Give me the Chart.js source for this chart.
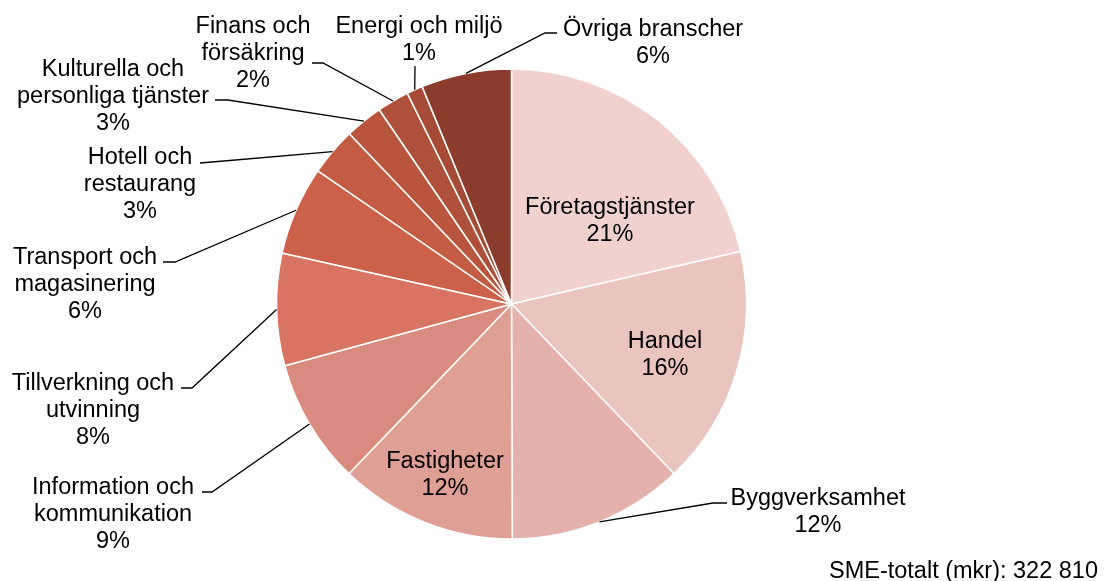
<!DOCTYPE html>
<html>
<head>
<meta charset="utf-8">
<script src="https://cdn.jsdelivr.net/npm/chart.js"></script>
<style>
  body { margin: 0; background: #fff; }
  #wrap { width: 1106px; height: 581px; position: relative; }
</style>
</head>
<body>
<div id="wrap"><canvas id="myChart"></canvas></div>
<script>
// branches (multi-line labels), share of SME total in percent
const categories = [
  ['Företagstjänster'],
  ['Handel'],
  ['Byggverksamhet'],
  ['Fastigheter'],
  ['Information och', 'kommunikation'],
  ['Tillverkning och', 'utvinning'],
  ['Transport och', 'magasinering'],
  ['Hotell och', 'restaurang'],
  ['Kulturella och', 'personliga tjänster'],
  ['Finans och', 'försäkring'],
  ['Energi och miljö'],
  ['Övriga branscher']
];
const shares = [21.4, 16.4, 12.1, 12.2, 8.6, 7.7, 6.1, 3.3, 2.6, 2.2, 1.1, 6.2];
const colors = ['#F0D1CE', '#EAC4BE', '#E5B2AB', '#DF9F95', '#DA8B7F', '#D77462',
                '#CC6048', '#C45B43', '#BA553D', '#AE503A', '#A64B36', '#8B3C2D'];
const totalNote = 'SME-totalt (mkr): 322 810';

// where each label goes; leader = [elbow, end] (null = label inside slice)
const labelLayout = [
  { x: 610, y: 206, leader: null },
  { x: 665, y: 340, leader: null },
  { x: 818, y: 497, leader: [[713, 503], [727, 503]] },
  { x: 445, y: 460, leader: null },
  { x: 113, y: 486, leader: [[212, 492], [202, 492]] },
  { x: 93, y: 382, leader: [[192, 388], [181, 388]] },
  { x: 85, y: 256, leader: [[175, 262], [163, 262]] },
  { x: 140, y: 156, leader: [[212, 162], [200, 163]] },
  { x: 113, y: 68, leader: [[228, 100], [215, 100]] },
  { x: 253, y: 25, leader: [[323, 63], [312, 63]] },
  { x: 419, y: 25, leader: [[415, 66]] },
  { x: 653, y: 28, leader: [[545, 33], [557, 33]] }
];

const FONT = "23.5px 'Liberation Sans', Arial, sans-serif";
const LINE_H = 27;
const TEXT_DY = 2;

const pieLabels = {
  id: 'pieLabels',
  afterDraw(chart) {
    const ctx = chart.ctx;
    const arcs = chart.getDatasetMeta(0).data;
    const total = shares.reduce((a, b) => a + b, 0);
    ctx.save();
    ctx.font = FONT;
    ctx.fillStyle = '#000';
    ctx.strokeStyle = '#000';
    ctx.lineWidth = 1.3;
    ctx.textAlign = 'center';
    ctx.textBaseline = 'middle';
    arcs.forEach((arc, i) => {
      const lay = labelLayout[i];
      const pct = Math.round(shares[i] / total * 100) + '%';
      const lines = categories[i].concat([pct]);
      if (lay.leader) {
        const mid = (arc.startAngle + arc.endAngle) / 2;
        const px = arc.x + Math.cos(mid) * arc.outerRadius;
        const py = arc.y + Math.sin(mid) * arc.outerRadius;
        ctx.beginPath();
        ctx.moveTo(px, py);
        lay.leader.forEach(p => ctx.lineTo(p[0], p[1]));
        ctx.stroke();
      }
      lines.forEach((t, k) => ctx.fillText(t, lay.x, lay.y + TEXT_DY + k * LINE_H));
    });
    ctx.textAlign = 'right';
    ctx.fillText(totalNote, 1098, 570 + TEXT_DY);
    ctx.restore();
  }
};

const ctx = document.getElementById('myChart').getContext('2d');
const myChart = new Chart(ctx, {
  type: 'pie',
  data: {
    labels: categories,
    datasets: [{
      data: shares,
      backgroundColor: colors,
      borderColor: '#fff',
      borderWidth: 1.5
    }]
  },
  options: {
    responsive: true,
    maintainAspectRatio: false,
    animation: false,
    radius: 235,
    layout: { padding: { left: 0, right: 83, top: 27, bottom: 0 } },
    plugins: {
      legend: { display: false },
      tooltip: { enabled: false }
    }
  },
  plugins: [pieLabels]
});
</script>
</body>
</html>
